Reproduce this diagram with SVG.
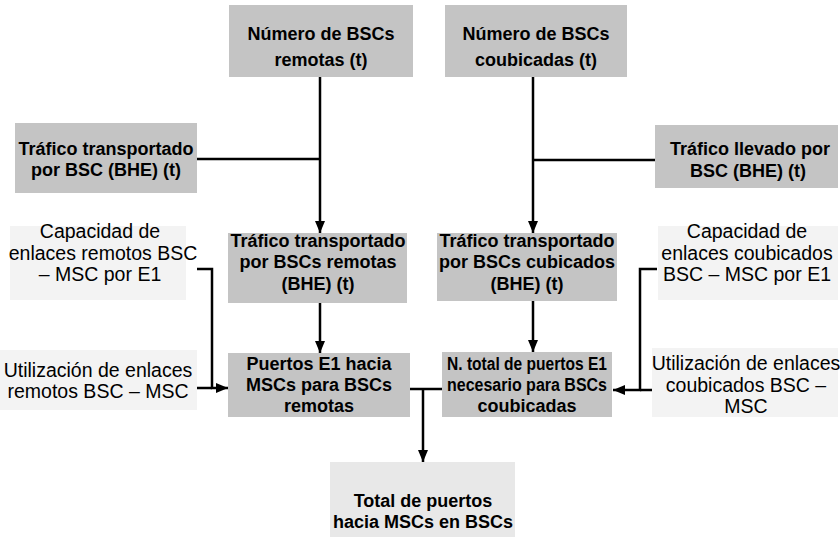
<svg xmlns="http://www.w3.org/2000/svg" width="840" height="537" viewBox="0 0 840 537">
<defs>
<style>
.dark{fill:#c4c4c4;stroke:none}
.light{fill:#f3f3f3;stroke:none}
.mid{fill:#e8e8e8;stroke:none}
text{font-family:"Liberation Sans",Arial,sans-serif;font-size:18px;fill:#000;text-anchor:middle}
.b{font-weight:bold}
.r{font-size:19.5px}
.c{fill:none;stroke:#000;stroke-width:2.5}
</style>
<marker id="ah" viewBox="0 0 12 10" refX="12" refY="5" markerWidth="12" markerHeight="10" markerUnits="userSpaceOnUse" orient="auto">
<path d="M0,0 L12,5 L0,10 Z" fill="#000"/>
</marker>
</defs>
<rect width="840" height="537" fill="#fff"/>

<g id="n_rem">
<rect class="dark" x="229" y="5" width="184" height="72"/>
<text class="b" x="321" y="40">Número de BSCs</text>
<text class="b" x="321" y="66">remotas (t)</text>
</g>
<g id="n_cou">
<rect class="dark" x="445" y="5" width="182" height="72"/>
<text class="b" x="536" y="40">Número de BSCs</text>
<text class="b" x="536" y="66">coubicadas (t)</text>
</g>
<g id="tr_left">
<rect class="dark" x="15" y="123" width="182" height="70"/>
<text class="b" x="106" y="155">Tráfico transportado</text>
<text class="b" x="106" y="176">por BSC (BHE) (t)</text>
</g>
<g id="tr_right">
<rect class="dark" x="655" y="125" width="183" height="63"/>
<text class="b" x="750" y="155">Tráfico llevado  por</text>
<text class="b" x="748" y="177">BSC (BHE) (t)</text>
</g>
<g id="cap_rem">
<rect class="light" x="10" y="226" width="176" height="74"/>
<text class="r" x="100" y="238">Capacidad de</text>
<text class="r" x="103" y="260">enlaces remotos BSC</text>
<text class="r" x="100" y="281">– MSC por E1</text>
</g>
<g id="tr_rem">
<rect class="dark" x="228" y="233" width="179" height="70"/>
<text class="b" x="318" y="247">Tráfico transportado</text>
<text class="b" x="318" y="268">por BSCs remotas</text>
<text class="b" x="318" y="290">(BHE) (t)</text>
</g>
<g id="tr_cou">
<rect class="dark" x="437" y="233" width="180" height="68"/>
<text class="b" x="527" y="247">Tráfico transportado</text>
<text class="b" x="527" y="268">por BSCs cubicados</text>
<text class="b" x="527" y="290">(BHE) (t)</text>
</g>
<g id="cap_cou">
<rect class="light" x="658" y="226" width="180" height="74"/>
<text class="r" x="747" y="238">Capacidad de</text>
<text class="r" x="747" y="260">enlaces coubicados</text>
<text class="r" x="747" y="281">BSC – MSC por E1</text>
</g>
<g id="util_rem">
<rect class="light" x="0" y="350" width="197" height="60"/>
<text class="r" x="98" y="377">Utilización de enlaces</text>
<text class="r" x="98" y="398">remotos BSC – MSC</text>
</g>
<g id="puertos">
<rect class="dark" x="228" y="353" width="182" height="64"/>
<text class="b" x="319" y="370">Puertos E1 hacia</text>
<text class="b" x="319" y="391">MSCs para BSCs</text>
<text class="b" x="319" y="412">remotas</text>
</g>
<g id="ntotal">
<rect class="dark" x="442" y="352" width="170" height="65"/>
<text class="b" x="527" y="370" textLength="160" lengthAdjust="spacingAndGlyphs">N. total de puertos E1</text>
<text class="b" x="527" y="391" textLength="160" lengthAdjust="spacingAndGlyphs">necesario para BSCs</text>
<text class="b" x="527" y="412">coubicadas</text>
</g>
<g id="util_cou">
<rect class="light" x="652" y="348" width="186" height="69"/>
<text class="r" x="746" y="370">Utilización de enlaces</text>
<text class="r" x="746" y="392">coubicados BSC –</text>
<text class="r" x="746" y="413">MSC</text>
</g>
<g id="total">
<rect class="mid" x="330" y="462" width="185" height="75"/>
<text class="b" x="423" y="507">Total de puertos</text>
<text class="b" x="423" y="528">hacia MSCs en BSCs</text>
</g>

<g id="connectors">
<line class="c" x1="320" y1="77" x2="320" y2="233" marker-end="url(#ah)"/>
<line class="c" x1="197" y1="159" x2="320" y2="159"/>
<line class="c" x1="533" y1="77" x2="533" y2="233" marker-end="url(#ah)"/>
<line class="c" x1="655" y1="160" x2="533" y2="160"/>
<line class="c" x1="320" y1="303" x2="320" y2="353" marker-end="url(#ah)"/>
<line class="c" x1="533" y1="301" x2="533" y2="352" marker-end="url(#ah)"/>
<polyline class="c" points="197,269 212,269 212,388 228,388" marker-end="url(#ah)"/>
<line class="c" x1="197" y1="388" x2="212" y2="388"/>
<line class="c" x1="410" y1="389" x2="442" y2="389"/>
<line class="c" x1="423" y1="389" x2="423" y2="462" marker-end="url(#ah)"/>
<polyline class="c" points="657,269 640,269 640,390 613,390" marker-end="url(#ah)"/>
<line class="c" x1="652" y1="390" x2="640" y2="390"/>
</g>
</svg>
